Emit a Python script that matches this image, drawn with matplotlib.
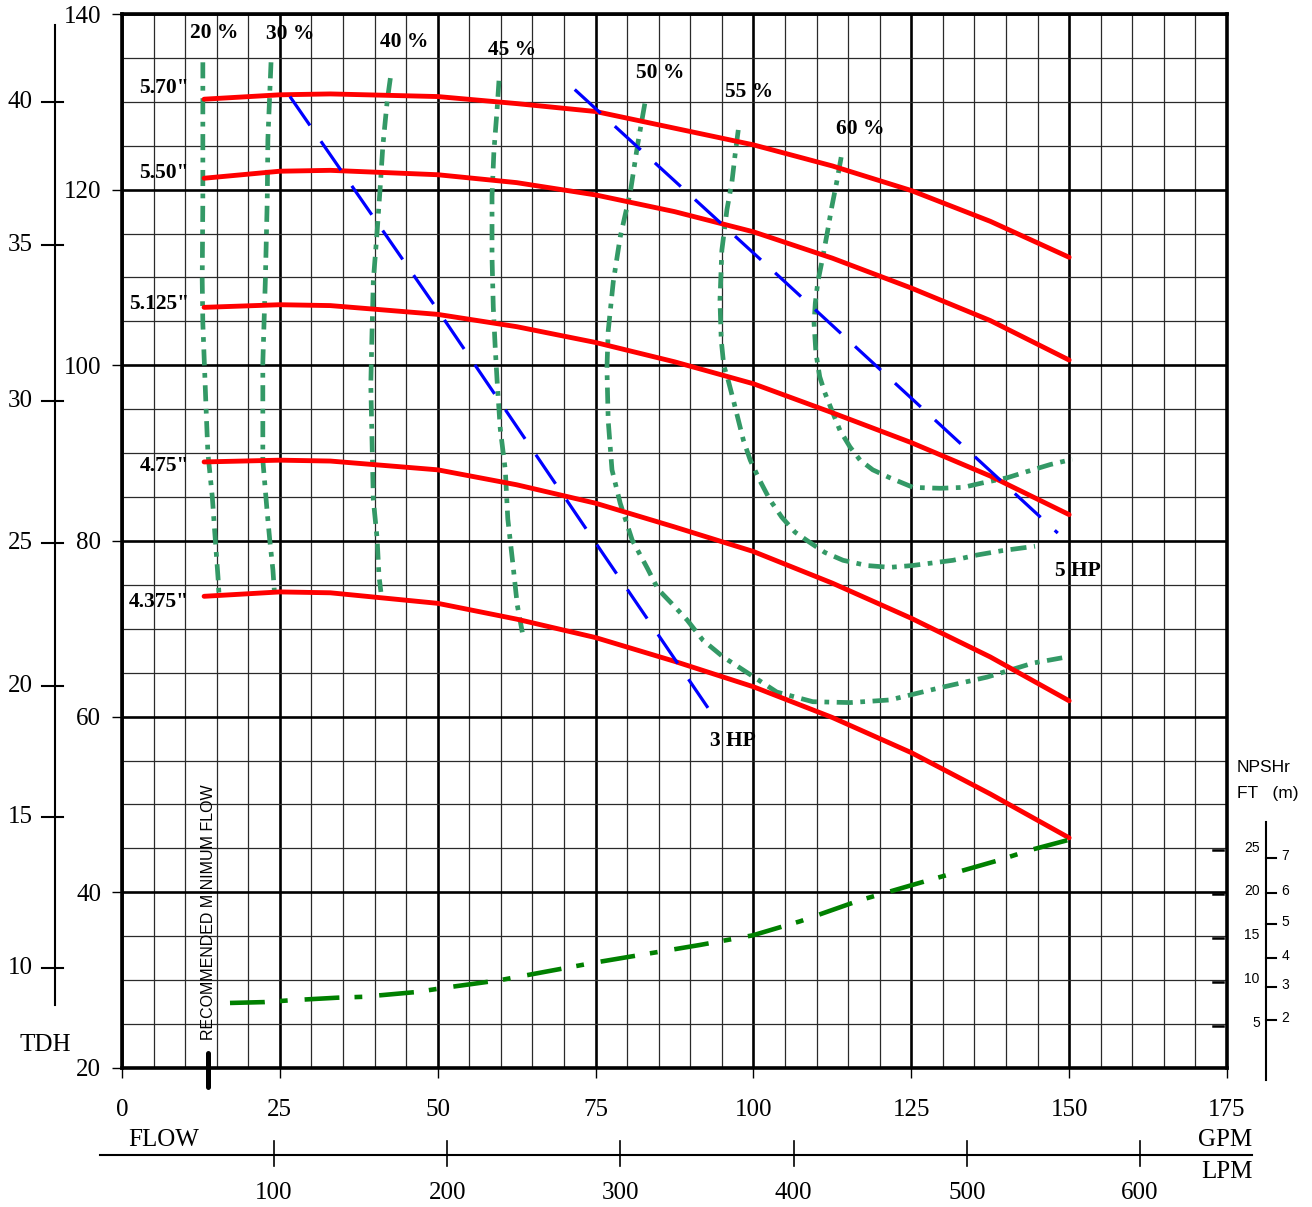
import matplotlib
matplotlib.use('Agg')
import matplotlib.pyplot as plt
from matplotlib.ticker import MultipleLocator

SERIF = 'Liberation Serif'
SANS = 'Liberation Sans'
plt.rcParams['font.family'] = SERIF

# ---- impeller curves: flow (GPM) vs TDH (ft) ----
flow = [13, 25, 33, 50, 62.5, 75, 87.5, 100, 112.5, 125, 137.5, 150]
head_570 = [130.3, 130.8, 130.9, 130.6, 129.8, 128.9, 127.0, 125.1, 122.7, 119.9, 116.4, 112.3]
head_550 = [121.3, 122.1, 122.2, 121.7, 120.8, 119.4, 117.5, 115.2, 112.2, 108.8, 105.1, 100.6]
head_5125 = [106.6, 106.9, 106.8, 105.8, 104.4, 102.6, 100.4, 97.9, 94.6, 91.2, 87.4, 83.0]
head_475 = [89.0, 89.2, 89.1, 88.1, 86.4, 84.3, 81.6, 78.8, 75.2, 71.2, 66.8, 61.8]
head_4375 = [73.7, 74.2, 74.1, 72.9, 71.1, 69.0, 66.3, 63.4, 59.9, 55.9, 51.2, 46.2]
diameters = ['5.70"', '5.50"', '5.125"', '4.75"', '4.375"']
diam_label_y = [131.6, 121.9, 107.0, 88.5, 73.1]

# ---- efficiency curves ----
eff20_q = [12.8, 12.8, 12.7, 12.8, 13.3, 13.6, 14.3, 14.7, 15.2, 15.4]
eff20_h = [134.5, 118.8, 109.7, 104.8, 95.3, 90.0, 85.0, 80.9, 75.9, 73.5]
eff30_q = [23.6, 23.1, 23.0, 22.7, 22.3, 22.3, 23.0, 23.4, 23.9, 24.2]
eff30_h = [134.5, 125.7, 118.8, 109.7, 100.3, 89.2, 83.2, 80.1, 76.7, 73.5]
eff40_q = [42.5, 42.0, 41.3, 40.9, 40.4, 39.8, 39.6, 39.4, 39.6, 39.8, 40.4, 40.7, 41.0]
eff40_h = [132.7, 130.1, 124.9, 120.4, 115.2, 109.6, 103.9, 97.8, 91.3, 84.7, 80.3, 76.0, 74.2]
eff45_q = [59.7, 59.4, 58.9, 58.6, 58.6, 58.8, 59.1, 59.4, 59.9, 60.7, 61.1, 61.9, 62.6, 63.4]
eff45_h = [132.4, 129.1, 124.4, 119.3, 112.3, 106.6, 102.1, 98.3, 92.8, 88.1, 82.5, 77.4, 72.7, 69.6]
eff50_q = [82.8, 81.7, 80.5, 78.9, 77.8, 77.0, 76.8, 77.0, 77.6, 78.9, 80.8, 83.2, 84.9,
           87.3, 89.5, 92.0, 95.2, 98.4, 103.7, 109.4, 115.3, 121.6, 129.6, 137.0, 144.3, 148.9]
eff50_h = [129.8, 125.3, 119.7, 114.6, 109.5, 103.9, 99.7, 93.7, 88.1, 84.3, 80.1, 76.9, 74.5,
           72.7, 71.0, 68.7, 66.8, 65.3, 62.8, 61.7, 61.6, 61.9, 63.3, 64.5, 66.1, 66.7]
eff55_q = [97.6, 97.1, 96.6, 95.8, 95.0, 94.7, 94.9, 95.3, 96.0, 96.8, 98.4, 99.5, 101.0,
           102.6, 104.5, 106.6, 109.0, 111.3, 114.2, 118.0, 121.6, 125.1, 131.6, 135.4, 139.4, 144.6]
eff55_h = [126.8, 124.0, 120.9, 117.7, 113.1, 107.4, 102.9, 100.0, 98.3, 96.1, 91.5, 89.2, 86.9,
           84.7, 82.7, 81.0, 79.8, 78.7, 77.8, 77.2, 77.0, 77.2, 77.8, 78.4, 78.9, 79.4]
eff60_q = [113.9, 113.2, 112.4, 111.7, 110.9, 110.2, 109.8, 109.6, 109.9, 110.5, 111.3, 112.4,
           113.7, 115.3, 116.9, 118.9, 121.6, 125.3, 129.6, 133.2, 136.2, 140.2, 143.3, 147.0, 150.5]
eff60_h = [123.7, 120.9, 118.0, 115.1, 112.0, 109.5, 107.1, 104.8, 101.4, 98.7, 96.9, 94.9,
           92.6, 90.7, 89.2, 88.1, 87.2, 86.1, 86.0, 86.1, 86.6, 87.2, 87.9, 88.7, 89.3]
eff_labels = ['20 %', '30 %', '40 %', '45 %', '50 %', '55 %', '60 %']
eff_label_q = [10.8, 22.8, 40.9, 58.0, 81.4, 95.5, 113.1]
eff_label_h = [137.8, 137.7, 136.8, 135.9, 133.3, 131.1, 126.9]

# ---- horsepower lines ----
hp3_q = [26.6, 49.9, 74.9, 92.8]
hp3_h = [130.6, 106.4, 79.9, 61.0]
hp5_q = [71.7, 104.7, 148.2]
hp5_h = [131.4, 109.7, 80.9]

# ---- NPSHr curve (ft), drawn against the NPSH scale on the right ----
npsh_q = [17.1, 22.6, 26.6, 34.1, 38.2, 46.7, 50.8, 59.9, 74.9, 91.5, 99.9, 107.4, 116.9, 125.0, 139.1, 143.8, 150.1]
npsh_ft = [7.6, 7.7, 7.9, 8.2, 8.3, 8.85, 9.3, 10.2, 12.2, 14.2, 15.3, 16.9, 19.3, 21.0, 23.9, 25.0, 26.2]
NPSH_ZERO = 19.8  # TDH level where NPSH scale reads 0
npsh_ft_ticks = [5, 10, 15, 20, 25]
npsh_m_labels = [2, 3, 4, 5, 6, 7]
npsh_m_pos = [5.7, 9.4, 12.7, 16.6, 20.1, 24.1]

# ---- secondary scales ----
tdh_m_labels = [40, 35, 30, 25, 20, 15, 10]
tdh_m_pos = [130.0, 113.7, 95.9, 79.8, 63.5, 48.6, 31.4]
lpm_labels = [100, 200, 300, 400, 500, 600]
LPM_GPM = 0.2743     # chart spacing of the LPM scale, GPM per LPM
LPM_OFFSET = -3.36
min_flow = 13.6

fig = plt.figure(figsize=(13.12, 12.07), dpi=100)
ax = fig.add_axes([0.093, 0.1152, 0.8422, 0.8732])
ax.set_xlim(0, 175)
ax.set_ylim(20, 140)

ax.xaxis.set_major_locator(MultipleLocator(25))
ax.xaxis.set_minor_locator(MultipleLocator(5))
ax.yaxis.set_major_locator(MultipleLocator(20))
ax.yaxis.set_minor_locator(MultipleLocator(5))
ax.grid(which='major', color='black', lw=1.9)
ax.grid(which='minor', color='#2a2a2a', lw=0.9)
ax.set_axisbelow(True)
ax.tick_params(which='minor', length=0)
ax.tick_params(which='major', direction='out', length=7, width=1, labelsize=18, colors='black')
ax.tick_params(axis='x', pad=15)
ax.tick_params(axis='y', pad=8)
for s in ax.spines.values():
    s.set_linewidth(2.6)

BOLD = 15.5

# impeller curves
for h, lab, ly in zip([head_570, head_550, head_5125, head_475, head_4375], diameters, diam_label_y):
    ax.plot(flow, h, color='#ff0000', lw=3.5, solid_capstyle='round',
            solid_joinstyle='round', zorder=4)
    ax.text(10.6, ly, lab, ha='right', va='center', fontsize=BOLD, fontweight='bold')

# efficiency curves
effs = [(eff20_q, eff20_h), (eff30_q, eff30_h), (eff40_q, eff40_h), (eff45_q, eff45_h),
        (eff50_q, eff50_h), (eff55_q, eff55_h), (eff60_q, eff60_h)]
for (q, h) in effs:
    ax.plot(q, h, color='#339966', lw=3.4, dashes=(3.4, 1.6, 1.0, 1.6), zorder=3)
for lab, x, y in zip(eff_labels, eff_label_q, eff_label_h):
    ax.text(x, y, lab, ha='left', va='center', fontsize=BOLD, fontweight='bold')

# horsepower lines
ax.plot(hp3_q, hp3_h, color='#0000ff', lw=2.3, dashes=(11, 6), zorder=5)
ax.plot(hp5_q, hp5_h, color='#0000ff', lw=2.3, dashes=(11, 6), zorder=5)
ax.text(93.1, 57.2, '3 HP', ha='left', va='center', fontsize=BOLD, fontweight='bold')
ax.text(147.8, 76.6, '5 HP', ha='left', va='center', fontsize=BOLD, fontweight='bold')

# NPSHr curve
ax.plot(npsh_q, [v + NPSH_ZERO for v in npsh_ft], color='#008000', lw=3.3,
        dashes=(7.6, 3.3, 1.7, 3.7), zorder=4)

# recommended minimum flow
ax.plot([min_flow, min_flow], [17.8, 21.7], color='black', lw=3.6,
        solid_capstyle='round', clip_on=False, zorder=6)
ax.text(min_flow + 0.15, 23.2, 'RECOMMENDED MINIMUM FLOW', rotation=90, ha='center',
        va='bottom', fontsize=11.5, family=SANS)

# metre scale on the left
ax.plot([-10.6, -10.6], [27.2, 138.75], color='black', lw=1.5, clip_on=False)
for m, pos in zip(tdh_m_labels, tdh_m_pos):
    ax.plot([-12.7, -9.3], [pos, pos], color='black', lw=1.5, clip_on=False)
    ax.text(-14.1, pos, str(m), ha='right', va='center', fontsize=18)
ax.text(-12.2, 22.6, 'TDH', ha='center', va='center', fontsize=18)

# LPM scale below
ax.plot([-3.5, 179.0], [10.1, 10.1], color='black', lw=1.5, clip_on=False)
for l in lpm_labels:
    x = LPM_OFFSET + l * LPM_GPM
    ax.plot([x, x], [8.85, 11.7], color='black', lw=1.2, clip_on=False)
    ax.text(x, 5.8, str(l), ha='center', va='center', fontsize=18)
ax.text(0.95, 11.8, 'FLOW', ha='left', va='center', fontsize=18)
ax.text(179.0, 11.8, 'GPM', ha='right', va='center', fontsize=18)
ax.text(179.0, 8.2, 'LPM', ha='right', va='center', fontsize=18)

# NPSH scale on the right
ax.text(176.6, 54.2, 'NPSHr', ha='left', va='center', fontsize=12.5, family=SANS)
ax.text(176.6, 51.3, 'FT   (m)', ha='left', va='center', fontsize=12.5, family=SANS)
ax.plot([181.2, 181.2], [18.6, 48.0], color='black', lw=1.5, clip_on=False)
for f in npsh_ft_ticks:
    y = f + NPSH_ZERO
    ax.plot([172.8, 174.4], [y, y], color='black', lw=1.8, clip_on=False, zorder=6)
    ax.text(180.2, y + 0.3, str(f), ha='right', va='center', fontsize=10, family=SANS)
for m, pos in zip(npsh_m_labels, npsh_m_pos):
    y = pos + NPSH_ZERO
    ax.plot([181.2, 182.8], [y, y], color='black', lw=1.5, clip_on=False)
    ax.text(183.6, y + 0.2, str(m), ha='left', va='center', fontsize=10, family=SANS)

fig.savefig('out.png', dpi=100)
